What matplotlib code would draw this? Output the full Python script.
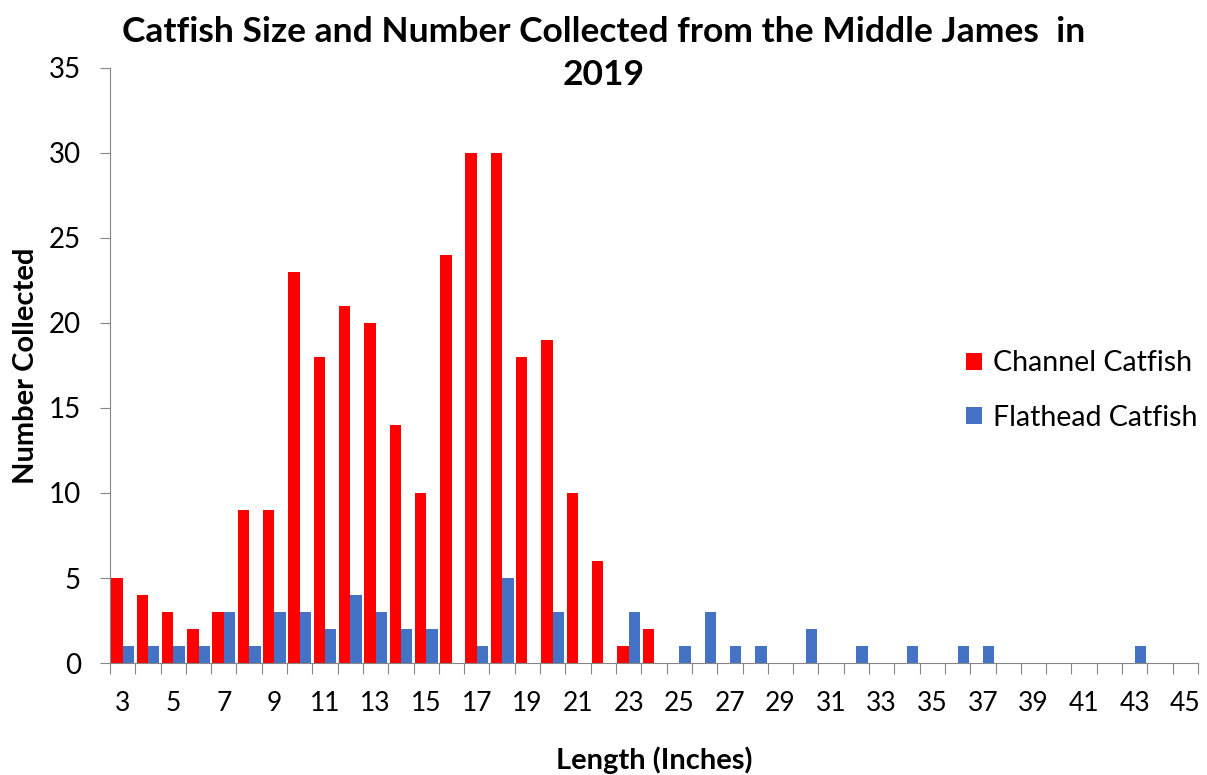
import numpy as np
import matplotlib.pyplot as plt

plt.rcParams['font.family'] = ['Lato', 'DejaVu Sans']

lengths = list(range(3, 46))
channel = [5, 4, 3, 2, 3, 9, 9, 23, 18, 21, 20, 14, 10, 24, 30, 30, 18, 19, 10, 6, 1, 2,
           0, 0, 0, 0, 0, 0, 0, 0, 0, 0, 0, 0, 0, 0, 0, 0, 0, 0, 0, 0, 0]
flathead = [1, 1, 1, 1, 3, 1, 3, 3, 2, 4, 3, 2, 2, 0, 1, 5, 0, 3, 0, 0, 3, 0,
            1, 3, 1, 1, 0, 2, 0, 1, 0, 1, 0, 1, 1, 0, 0, 0, 0, 0, 1, 0, 0]
y_ticks = [0, 5, 10, 15, 20, 25, 30, 35]

RED = '#FF0000'
BLUE = '#4472C4'
GRAY = '#868686'

fig = plt.figure(figsize=(12.07, 7.75), dpi=100)
ax = fig.add_axes([0.0911, 0.1445, 0.9014, 0.7678])

x = np.arange(len(lengths))
w = 0.45
ax.bar(x - w / 2, channel, width=w, color=RED, label='Channel Catfish')
ax.bar(x + w / 2, flathead, width=w, color=BLUE, label='Flathead Catfish')

ax.set_xlim(-0.5, len(lengths) - 0.5)
ax.set_ylim(0, 35)
ax.set_yticks(y_ticks)
ax.tick_params(axis='y', labelsize=20, length=7, color=GRAY, direction='out', pad=14)

# boundary ticks between categories, labels on every other category
ax.set_xticks(np.arange(len(lengths) + 1) - 0.5)
ax.set_xticklabels([])
ax.set_xticks(x[::2], minor=True)
ax.set_xticklabels([str(v) for v in lengths[::2]], minor=True)
ax.tick_params(axis='x', which='major', length=8, color=GRAY)
ax.tick_params(axis='x', which='minor', length=0, labelsize=19, pad=20)

for side in ['top', 'right']:
    ax.spines[side].set_visible(False)
ax.spines['left'].set_color(GRAY)
ax.spines['bottom'].set_color(GRAY)

ax.set_xlabel('Length (Inches)', fontsize=21, fontweight='bold', labelpad=22)
ax.set_ylabel('Number Collected', fontsize=21, fontweight='bold', labelpad=7)
fig.text(0.5, 0.98, 'Catfish Size and Number Collected from the Middle James  in\n2019',
         ha='center', va='top', fontsize=25.5, fontweight='bold', linespacing=1.45)

ax.legend(loc='center left', bbox_to_anchor=(0.787, 0.458), frameon=False, fontsize=20.5,
          handlelength=0.55, handleheight=0.55, handletextpad=0.4, labelspacing=1.0,
          borderpad=0, borderaxespad=0)

fig.savefig('out.png', dpi=100)
